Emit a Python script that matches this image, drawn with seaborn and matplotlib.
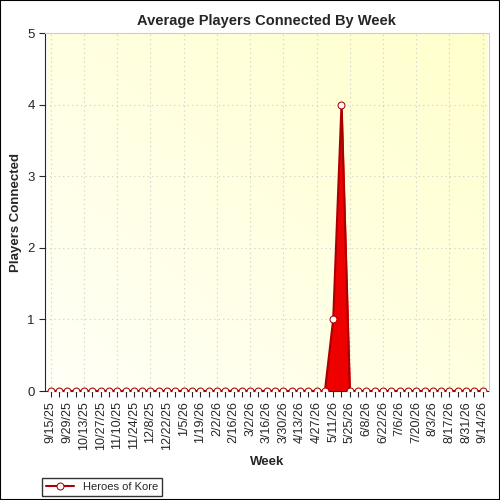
import matplotlib
matplotlib.use("Agg")
import matplotlib.pyplot as plt
import seaborn as sns
import numpy as np
import pandas as pd

sns.set_style("white")
plt.rcParams['font.family'] = ['Liberation Sans', 'DejaVu Sans']

weeks = pd.date_range("2025-09-15", "2026-09-14", freq="7D")
values = [0]*34 + [1, 4] + [0]*(len(weeks)-36)
labels = [f"{d.month}/{d.day}/{d.year%100}" for d in weeks]
df = pd.DataFrame({"i": np.arange(len(weeks)), "v": values})

fig = plt.figure(figsize=(5, 5), dpi=100)
ax = fig.add_axes([0.09, 0.218, 0.887, 0.716])
grad = np.linspace(0, 1, 100)
X, Y = np.meshgrid(grad, grad)
t = np.clip((X + Y) / 2, 0, 1)
img = np.zeros((100, 100, 3))
img[..., 0] = 1.0
img[..., 1] = 1.0
img[..., 2] = 0.97 - 0.17 * t
ax.imshow(img, extent=[-0.5, len(weeks)-0.5, 0, 5], origin="lower", aspect="auto", zorder=0)

ax.fill_between(df["i"], df["v"], color="#ee0000", zorder=2)
sns.lineplot(data=df, x="i", y="v", ax=ax, color="#aa0000", lw=1.5, marker="o",
             markersize=5, markerfacecolor="white", markeredgecolor="#aa0000", zorder=3,
             label="Heroes of Kore")
ax.set_xlim(-0.7, len(weeks)-0.3)
ax.set_ylim(0, 5)
ax.set_xticks(df["i"])
ax.set_xticklabels([l if k % 2 == 0 else "" for k, l in enumerate(labels)], rotation=90, fontsize=9)
ax.set_yticks(range(6))
ax.tick_params(axis="y", labelsize=9.5, length=4, direction="out", left=True)
ax.tick_params(axis="x", length=4, direction="out", bottom=True)
ax.grid(True, axis="y", color="#cccccc", linestyle=(0, (1, 3)), lw=0.8)
for k in range(0, len(weeks), 4):
    ax.axvline(k, color="#cccccc", linestyle=(0, (1, 3)), lw=0.8, zorder=1)
for s in ["top", "right"]:
    ax.spines[s].set_color("#cccccc")
ax.set_title("Average Players Connected By Week", fontsize=10.5, fontweight="bold")
ax.set_xlabel("Week", fontsize=9.5, fontweight="bold")
ax.set_ylabel("Players Connected", fontsize=9.5, fontweight="bold")
leg = ax.legend(loc="lower left", bbox_to_anchor=(-0.02, -0.31), fontsize=8, frameon=True,
                fancybox=False, edgecolor="black", handlelength=2.5)
fig.patches.append(plt.Rectangle((0, 0), 1, 1, transform=fig.transFigure, fill=False,
                                 edgecolor="black", lw=1.5))
fig.savefig("out.png", dpi=100)
